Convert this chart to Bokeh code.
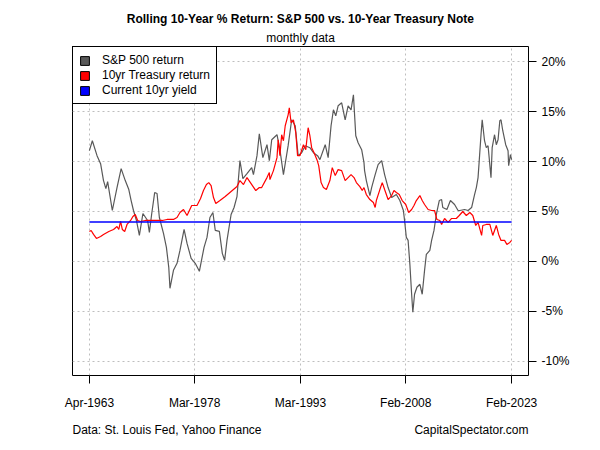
import pandas as pd
from bokeh.plotting import figure
from bokeh.models import (FixedTicker, DatetimeTickFormatter, PrintfTickFormatter, Range1d,
                          Legend, LegendItem, Title, ColumnDataSource)
from bokeh.embed import file_html
from bokeh.resources import INLINE

# ---------------- data ----------------
sp_dates = ["1963-04", "1963-09", "1964-05", "1964-11", "1965-04", "1965-08", "1965-11", "1966-07",
            "1967-03", "1967-10", "1968-05", "1968-11", "1969-03", "1969-07", "1969-12", "1970-05",
            "1970-11", "1971-07", "1971-10", "1972-02", "1972-07", "1972-11", "1973-03", "1973-10",
            "1974-03", "1974-07", "1974-09", "1975-03", "1975-09", "1976-02", "1976-09", "1977-02",
            "1977-09", "1978-04", "1978-11", "1979-03", "1979-07", "1979-12", "1980-05", "1980-10",
            "1981-02", "1981-09", "1982-02", "1982-06", "1982-10", "1983-05", "1983-10", "1984-03",
            "1984-08", "1985-01", "1985-08", "1986-04", "1986-07", "1987-01", "1987-05", "1987-11",
            "1988-06", "1988-10", "1989-02", "1989-11", "1990-04", "1990-10", "1991-06", "1991-12",
            "1992-06", "1992-11", "1993-05", "1993-11", "1994-07", "1995-01", "1995-08", "1995-12",
            "1996-09", "1997-02", "1997-07", "1997-11", "1998-03", "1998-07", "1999-01", "1999-07",
            "1999-12", "2000-05", "2000-09", "2001-01", "2001-05", "2001-11", "2002-03", "2002-04",
            "2002-07", "2003-01", "2003-04", "2003-10", "2004-03", "2004-09", "2005-02", "2005-08",
            "2006-02", "2006-10", "2007-04", "2007-10", "2007-12", "2008-03", "2008-06", "2008-09",
            "2008-12", "2009-02", "2009-05", "2009-09", "2010-02", "2010-06", "2010-10", "2011-01",
            "2011-07", "2011-10", "2012-02", "2012-06", "2012-11", "2013-03", "2013-05", "2013-12",
            "2014-06", "2015-01", "2015-07", "2015-10", "2016-06", "2016-12", "2017-06", "2017-11",
            "2018-02", "2018-05", "2018-07", "2018-10", "2018-12", "2019-04", "2019-07", "2019-10",
            "2020-03", "2020-05", "2020-09", "2020-12", "2021-03", "2021-06", "2021-08", "2021-11",
            "2022-04", "2022-08", "2022-09", "2022-12", "2023-02"]
sp_returns = [11.1, 12.1, 10.6, 9.8, 8.1, 7.3, 8.0, 5.1,
              7.4, 9.3, 8.1, 7.2, 6.1, 5.1, 4.1, 2.6,
              4.8, 4.1, 2.9, 4.8, 6.9, 6.8, 4.4, 2.8,
              1.4, -0.6, -2.7, -0.9, -0.2, 1.1, 3.2, 1.8,
              0.3, -0.2, -1.0, 0.2, 1.4, 2.4, 4.4, 4.9,
              3.1, 3.0, 0.8, 0.1, 2.1, 4.7, 5.4, 6.5,
              10.1, 8.3, 8.8, 9.4, 8.7, 10.6, 12.8, 10.4,
              11.7, 10.1, 12.2, 12.7, 11.2, 8.7, 11.6, 14.2,
              13.6, 10.6, 10.9, 11.6, 11.4, 10.9, 10.6, 10.2,
              11.7, 10.4, 13.6, 15.2, 14.6, 15.6, 15.9, 14.2,
              15.6, 15.2, 16.7, 12.6, 11.9, 11.2, 9.9, 9.1,
              8.1, 6.6, 7.4, 8.7, 9.7, 10.1, 8.7, 7.4,
              6.4, 6.7, 6.1, 5.1, 4.1, 2.4, 2.1, -0.3,
              -3.3, -5.1, -3.3, -2.6, -2.3, -3.3, -0.9, 0.7,
              1.1, 2.1, 3.1, 4.7, 6.1, 6.2, 5.4, 5.2,
              6.1, 5.7, 5.1, 5.1, 5.2, 5.1, 5.4, 6.7,
              7.4, 8.4, 10.1, 12.7, 14.2, 12.1, 11.4, 11.6,
              8.4, 11.4, 12.7, 11.7, 12.2, 14.1, 14.2, 13.1,
              11.7, 11.1, 9.6, 10.7, 10.2]

tsy_dates = ["1963-04", "1963-07", "1963-11", "1964-04", "1964-11", "1965-04", "1966-01", "1966-09",
             "1967-03", "1967-06", "1967-09", "1967-12", "1968-04", "1968-08", "1969-02", "1969-06",
             "1969-10", "1970-02", "1970-07", "1971-03", "1971-12", "1972-08", "1973-08", "1974-04",
             "1975-03", "1975-09", "1976-02", "1976-08", "1977-02", "1977-10", "1978-07", "1979-01",
             "1979-06", "1979-11", "1980-03", "1980-07", "1980-11", "1981-03", "1981-10", "1982-07",
             "1983-05", "1984-03", "1984-08", "1985-02", "1985-08", "1986-03", "1986-11", "1987-05",
             "1987-09", "1988-06", "1988-10", "1988-11", "1989-05", "1989-11", "1990-01", "1990-04",
             "1990-07", "1990-10", "1991-01", "1991-06", "1991-08", "1991-11", "1992-03", "1992-07",
             "1992-10", "1993-02", "1993-08", "1993-12", "1994-04", "1994-07", "1994-10", "1995-02",
             "1995-07", "1995-10", "1996-02", "1996-06", "1996-11", "1997-05", "1997-09", "1998-02",
             "1998-07", "1999-01", "1999-07", "1999-12", "2000-05", "2000-10", "2001-02", "2001-08",
             "2001-12", "2002-03", "2002-07", "2003-01", "2003-07", "2003-10", "2003-12", "2004-06",
             "2004-10", "2005-02", "2005-08", "2006-02", "2006-06", "2006-10", "2007-03", "2007-08",
             "2008-02", "2008-07", "2008-12", "2009-04", "2009-08", "2010-02", "2010-06", "2010-10",
             "2011-04", "2011-10", "2012-03", "2012-07", "2012-12", "2013-03", "2013-08", "2014-02",
             "2014-08", "2015-04", "2015-09", "2016-03", "2016-09", "2017-03", "2017-08", "2018-01",
             "2018-05", "2018-11", "2019-01", "2019-07", "2020-01", "2020-06", "2020-12", "2021-04",
             "2021-08", "2022-02", "2022-06", "2022-11", "2023-02"]
tsy_returns = [3.0, 3.1, 2.7, 2.3, 2.5, 2.7, 3.0, 3.2,
               3.5, 3.2, 4.0, 3.2, 3.0, 3.7, 4.1, 4.5,
               4.7, 4.1, 4.0, 4.1, 4.1, 4.1, 4.1, 4.2,
               4.2, 4.4, 4.9, 5.2, 4.6, 5.6, 5.6, 6.3,
               7.1, 7.7, 7.9, 7.6, 6.4, 5.8, 6.1, 6.5,
               7.0, 7.5, 8.1, 7.7, 8.4, 7.8, 7.1, 7.4,
               7.4, 8.4, 8.9, 8.2, 9.1, 10.4, 12.2, 10.6,
               12.7, 12.1, 13.6, 14.7, 15.4, 13.9, 14.2, 12.9,
               10.6, 10.6, 11.7, 11.2, 13.4, 12.6, 11.4, 10.9,
               10.2, 9.6, 7.9, 7.4, 7.2, 8.1, 9.4, 8.6,
               9.2, 9.1, 8.1, 8.4, 8.7, 8.4, 7.9, 7.5,
               7.1, 7.4, 6.7, 6.2, 5.9, 5.4, 6.1, 7.2,
               7.9, 7.2, 6.2, 6.6, 7.1, 6.9, 6.7, 6.1,
               5.7, 4.9, 5.2, 5.6, 6.1, 6.6, 6.1, 5.7,
               5.2, 5.1, 5.1, 4.2, 4.1, 3.7, 4.3, 3.9,
               4.3, 4.3, 4.6, 5.0, 4.6, 4.9, 4.6, 3.6,
               3.9, 2.6, 3.6, 3.7, 3.7, 2.6, 3.6, 2.7,
               2.1, 2.1, 1.7, 1.9, 2.1]

current_yield = 3.95

x_tick_dates = ["1963-04", "1978-03", "1993-03", "2008-02", "2023-02"]
y_ticks = [-10, -5, 0, 5, 10, 15, 20]

legend_labels = ["S&P 500 return", "10yr Treasury return", "Current 10yr yield"]
series_colors = ["#595959", "#FF0000", "#0000FF"]

# ---------------- build ----------------
FONT = "Liberation Sans"
sp_x = pd.to_datetime(sp_dates, format="%Y-%m")
tsy_x = pd.to_datetime(tsy_dates, format="%Y-%m")
tick_x = pd.to_datetime(x_tick_dates, format="%Y-%m")

start, end = sp_x[0], sp_x[-1]
pad = (end - start) * 0.04

p = figure(width=600, height=450, x_axis_type="datetime", y_axis_location="right",
           output_backend="svg", toolbar_location=None, title=None,
           x_range=Range1d(start - pad, end + pad), y_range=Range1d(-11.45, 21.55),
           min_border_left=72, min_border_right=72, min_border_top=46, min_border_bottom=75)

p.outline_line_color = "black"
p.outline_line_width = 1
p.outline_line_alpha = 1

# axes
xa = p.xaxis[0]
xa.ticker = FixedTicker(ticks=[t.timestamp() * 1000 for t in tick_x])
fmt = "%b-%Y"
xa.formatter = DatetimeTickFormatter(microseconds=fmt, milliseconds=fmt, seconds=fmt, minsec=fmt,
                                     minutes=fmt, hourmin=fmt, hours=fmt, days=fmt, months=fmt, years=fmt)
ya = p.yaxis[0]
ya.ticker = FixedTicker(ticks=y_ticks)
ya.formatter = PrintfTickFormatter(format="%d%%")
for ax in (xa, ya):
    ax.axis_line_color = None
    ax.major_tick_line_color = "black"
    ax.major_tick_out = 8
    ax.major_tick_in = 0
    ax.minor_tick_line_color = None
    ax.major_label_text_font = FONT
    ax.major_label_text_font_size = "12px"
    ax.major_label_text_color = "black"
xa.major_label_standoff = 12
ya.major_label_standoff = 5

for g in (p.xgrid[0], p.ygrid[0]):
    g.grid_line_color = "#BEBEBE"
    g.grid_line_dash = "2 3"
    g.grid_line_width = 1

# series
p.line(sp_x, sp_returns, line_color=series_colors[0], line_width=1.2)
p.line(tsy_x, tsy_returns, line_color=series_colors[1], line_width=1.2)
p.line([start, end], [current_yield, current_yield], line_color=series_colors[2], line_width=1.5)

# legend (square swatches; renderers carry no visible data)
items = []
for lab, col in zip(legend_labels, series_colors):
    src = ColumnDataSource(dict(l=[float("nan")], r=[float("nan")], t=[float("nan")], b=[float("nan")]))
    r = p.quad(left="l", right="r", top="t", bottom="b", source=src,
               fill_color=col, line_color="black", line_width=1)
    items.append(LegendItem(label=lab, renderers=[r], index=0))
legend = Legend(items=items, location="top_left", margin=0, padding=6, spacing=1,
                glyph_width=11, glyph_height=11, label_height=14, label_standoff=12,
                border_line_color="black", border_line_width=1, border_line_alpha=1,
                background_fill_color="white", background_fill_alpha=1,
                label_text_font=FONT, label_text_font_size="12px", label_text_color="black")
p.add_layout(legend)

# titles
sub = Title(text="monthly data", align="center", text_font=FONT, text_font_size="12px",
            text_font_style="normal", text_color="black", standoff=3)
main = Title(text="Rolling 10-Year % Return: S&P 500 vs. 10-Year Treasury Note", align="center",
             text_font=FONT, text_font_size="12px", text_font_style="bold", text_color="black",
             standoff=3)
p.add_layout(sub, "above")
p.add_layout(main, "above")

# footer: source note (left) and credit (right) on one line
src_note = Title(text="Data: St. Louis Fed, Yahoo Finance", align="left", vertical_align="top",
                 text_font=FONT, text_font_size="12px", text_font_style="normal",
                 text_color="black", standoff=20)
credit = Title(text="CapitalSpectator.com", align="right", vertical_align="top", text_font=FONT,
               text_font_size="12px", text_font_style="normal", text_color="black", standoff=-52)
p.add_layout(src_note, "below")
p.add_layout(credit, "below")

open("out.html", "w").write(file_html(p, INLINE))
